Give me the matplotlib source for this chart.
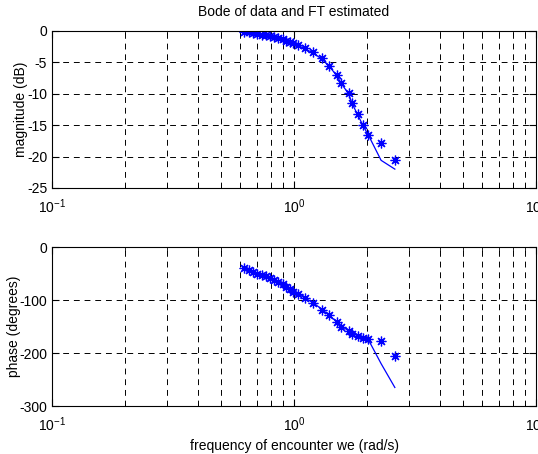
import numpy as np
import matplotlib
matplotlib.use('Agg')
import matplotlib.pyplot as plt
from matplotlib.ticker import LogLocator, NullFormatter, FixedLocator

plt.rcParams['font.family'] = 'Liberation Sans'
plt.rcParams['mathtext.fontset'] = 'custom'
plt.rcParams['mathtext.rm'] = 'Liberation Sans'
plt.rcParams['mathtext.it'] = 'Liberation Sans'
plt.rcParams['axes.unicode_minus'] = False

# frequencies of the measured points (rad/s)
freq = [0.62, 0.65, 0.675, 0.705, 0.735, 0.765, 0.795, 0.825, 0.86, 0.9,
        0.93, 0.96, 0.99, 1.04, 1.11, 1.2, 1.3, 1.4, 1.5, 1.57,
        1.68, 1.74, 1.83, 1.93, 2.03, 2.29, 2.61]

# measured data (stars)
mag_data = [-0.1, -0.2, -0.37, -0.48, -0.58, -0.69, -0.85, -1.0, -1.17, -1.33,
            -1.54, -1.75, -1.96, -2.23, -2.76, -3.4, -4.35, -5.57, -7.0, -8.3,
            -9.9, -11.5, -13.2, -15.0, -16.5, -17.9, -20.5]
phase_data = [-39, -43, -46.5, -50, -52, -55, -58.5, -62, -66, -70,
              -75, -80, -84, -89, -96, -105, -118, -129, -142, -150,
              -159, -164, -167, -172, -173, -177, -206]

# estimated transfer function (line)
mag_fit = [-0.15, -0.25, -0.4, -0.52, -0.63, -0.75, -0.9, -1.05, -1.22, -1.4,
           -1.6, -1.8, -2.0, -2.3, -2.85, -3.5, -4.45, -5.65, -7.1, -8.4,
           -10.0, -11.6, -13.3, -15.1, -16.6, -20.6, -22.0]
phase_fit = [-38, -42, -45.5, -49, -51.5, -54.5, -58, -61.5, -65.5, -70,
             -74, -79, -83, -88, -96, -105, -117, -129, -141, -149,
             -158, -163, -167, -171, -175, -220, -265]

fig = plt.figure(figsize=(5.38, 4.54), dpi=100)
ax1 = fig.add_axes([0.0967, 0.586, 0.8996, 0.3458])
ax2 = fig.add_axes([0.0967, 0.1057, 0.8996, 0.350])

asterisk = (8, 2, 0)  # matlab style '*' (plus + cross)

for ax, data, fit in [(ax1, mag_data, mag_fit), (ax2, phase_data, phase_fit)]:
    ax.semilogx(freq, data, linestyle='none', marker=asterisk, color='#0000ff',
                markersize=7, markeredgewidth=0.9)
    ax.semilogx(freq, fit, '-', color='#0000ff', linewidth=0.9)
    ax.set_xlim(0.1, 10)
    ax.xaxis.set_major_locator(LogLocator(base=10, numticks=5))
    ax.xaxis.set_minor_locator(LogLocator(base=10, subs=np.arange(2, 10), numticks=20))
    ax.xaxis.set_minor_formatter(NullFormatter())
    ax.grid(True, which='both', axis='x', color='black', linestyle=(0, (6, 5)), linewidth=0.7)
    ax.grid(True, which='major', axis='y', color='black', linestyle=(0, (6, 5)), linewidth=0.7)
    ax.tick_params(which='both', direction='in', top=True, right=True, labelsize=10)
    ax.tick_params(axis='x', which='major', pad=7)
    ax.tick_params(which='major', length=5)
    ax.tick_params(which='minor', length=3)
    for s in ax.spines.values():
        s.set_linewidth(0.8)

ax1.set_ylim(-25, 0)
ax1.yaxis.set_major_locator(FixedLocator([-25, -20, -15, -10, -5, 0]))
ax1.set_ylabel('magnitude (dB)', fontsize=10, labelpad=-1)
ax1.set_title('Bode of data and FT estimated', fontsize=10, pad=11)

ax2.set_ylim(-300, 0)
ax2.yaxis.set_major_locator(FixedLocator([-300, -200, -100, 0]))
ax2.set_ylabel('phase (degrees)', fontsize=10, labelpad=-1)
ax2.set_xlabel('frequency of encounter we (rad/s)', fontsize=10, labelpad=3)

fig.savefig('out.png', dpi=100)
